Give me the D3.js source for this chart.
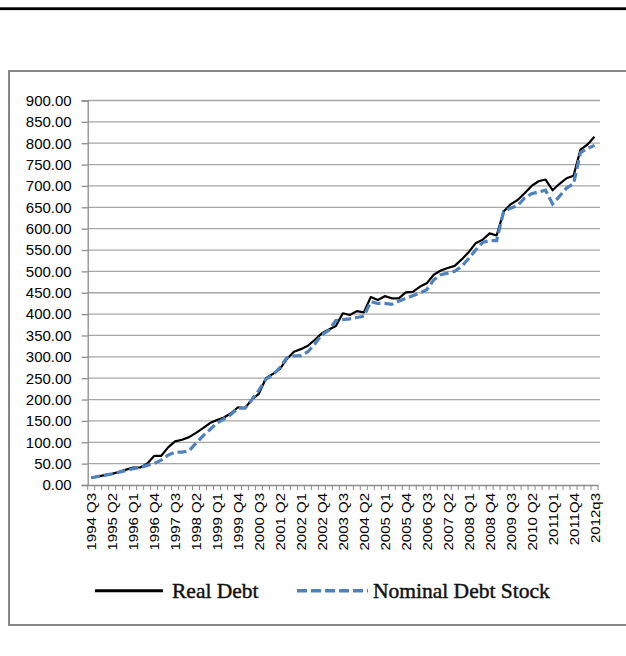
<!DOCTYPE html>
<html><head><meta charset="utf-8">
<script src="https://cdn.jsdelivr.net/npm/d3@7"></script>
<style>
html,body{margin:0;padding:0;background:#fff;}
svg{display:block;}
</style></head>
<body>
<svg id="c" width="626" height="656"></svg>
<script>
const quarters = [];
(function(){
  const startYear = 1994, startQ = 3, n = 73;
  for (let k = 0; k < n; k++) {
    const t = (startQ - 1) + k;
    quarters.push((startYear + Math.floor(t / 4)) + " Q" + (t % 4 + 1));
  }
})();
const tickLabels = ["1994 Q3","1995 Q2","1996 Q1","1996 Q4","1997 Q3","1998 Q2","1999 Q1","1999 Q4","2000 Q3","2001 Q2","2002 Q1","2002 Q4","2003 Q3","2004 Q2","2005 Q1","2005 Q4","2006 Q3","2007 Q2","2008 Q1","2008 Q4","2009 Q3","2010 Q2","2011Q1","2011Q4","2012q3"];
const realDebt = [17,20,23,26,31,36,41,41,50,68,68,88,102,106,112,122,133,145,152,158,168,182,180,200,214,250,260,272,295,312,318,326,340,355,364,372,402,398,407,404,440,433,442,437,437,451,452,464,472,492,502,508,513,528,545,566,574,589,584,640,657,667,683,700,711,715,690,705,718,724,785,797,815];
const nominalDebt = [17,20,23,26,30,34,38,41,46,50,58,70,77,77,80,98,115,130,145,155,165,180,180,200,222,248,258,275,298,302,303,312,330,352,362,385,387,389,392,395,429,425,425,423,430,437,443,449,457,480,492,496,500,512,530,550,568,572,572,640,648,654,672,682,686,690,658,676,695,705,778,788,795];
const yTicks = d3.range(0, 901, 50);
const seriesNames = ["Real Debt", "Nominal Debt Stock"];

const svg = d3.select("#c");
// top rule
svg.append("rect").attr("x",0).attr("y",7.3).attr("width",626).attr("height",2.8).attr("fill","#000");
// frame
svg.append("rect").attr("x",9).attr("y",71).attr("width",640).attr("height",554)
  .attr("fill","none").attr("stroke","#878787").attr("stroke-width",2);

const plotL = 87.7, plotR = 598, plotT = 100.5, plotB = 485;
const x = d3.scaleBand().domain(quarters).range([plotL, plotR]).padding(0);
const y = d3.scaleLinear().domain([0, 900]).range([plotB, plotT]);
const cx = d => x(d) + x.bandwidth() / 2;

// gridlines
svg.append("g").selectAll("line").data(yTicks.filter(v => v > 0)).join("line")
  .attr("x1", plotL).attr("x2", 600).attr("y1", d => y(d)).attr("y2", d => y(d))
  .attr("stroke", "#a6a6a6").attr("stroke-width", 1.3);

// y axis
const yAxis = svg.append("g").attr("transform", `translate(${plotL},0)`)
  .call(d3.axisLeft(y).tickValues(yTicks).tickFormat(d3.format(".2f")).tickSize(6).tickPadding(10));
yAxis.select(".domain").attr("stroke", "#8c8c8c").attr("stroke-width", 1.3);
yAxis.selectAll(".tick line").attr("stroke", "#8c8c8c").attr("stroke-width", 1.3);
yAxis.selectAll("text").attr("font-family", "Liberation Sans, Arial, sans-serif").attr("font-size", 15).attr("fill", "#000");

// x axis
const xAxis = svg.append("g").attr("transform", `translate(0,${plotB})`)
  .call(d3.axisBottom(x).tickValues(quarters.filter((q, i) => i % 3 === 0)).tickSize(0).tickPadding(0)
    .tickFormat((q) => tickLabels[quarters.indexOf(q) / 3]));
xAxis.select(".domain").attr("stroke", "#8c8c8c").attr("stroke-width", 1.3);
xAxis.selectAll("text")
  .attr("font-family", "Liberation Sans, Arial, sans-serif").attr("font-size", 15).attr("fill", "#000")
  .attr("text-anchor", "end").attr("dy", null).attr("y", 0)
  .attr("transform", "translate(5,8) rotate(-90) scale(1,0.84)");
// minor ticks at category boundaries
const bounds = quarters.map(q => x(q)).concat([x(quarters[quarters.length - 1]) + x.bandwidth()]);
xAxis.append("g").selectAll("line").data(bounds).join("line")
  .attr("x1", d => d).attr("x2", d => d).attr("y1", 0).attr("y2", 5)
  .attr("stroke", "#8c8c8c").attr("stroke-width", 1);

// lines
const line = d3.line().x((d, i) => cx(quarters[i])).y(d => y(d));
svg.append("path").datum(realDebt).attr("d", line).attr("fill", "none")
  .attr("stroke", "#000").attr("stroke-width", 2.2).attr("stroke-linejoin", "round");
svg.append("path").datum(nominalDebt).attr("d", line).attr("fill", "none")
  .attr("stroke", "#4f81bd").attr("stroke-width", 3.2).attr("stroke-dasharray", "9,4");

// legend
const lg = svg.append("g");
lg.append("line").attr("x1", 95).attr("x2", 163).attr("y1", 590.7).attr("y2", 590.7)
  .attr("stroke", "#000").attr("stroke-width", 3);
lg.append("text").attr("x", 172).attr("y", 597.5).text(seriesNames[0]);
lg.append("line").attr("x1", 297).attr("x2", 368).attr("y1", 590.7).attr("y2", 590.7)
  .attr("stroke", "#4f81bd").attr("stroke-width", 3.5).attr("stroke-dasharray", "10,4");
lg.append("text").attr("x", 373).attr("y", 597.5).text(seriesNames[1]);
lg.selectAll("text").attr("font-family", "Liberation Serif, Times New Roman, serif").attr("font-size", 21.5)
  .attr("fill", "#111").attr("stroke", "#111").attr("stroke-width", 0.45);
</script>
</body></html>
